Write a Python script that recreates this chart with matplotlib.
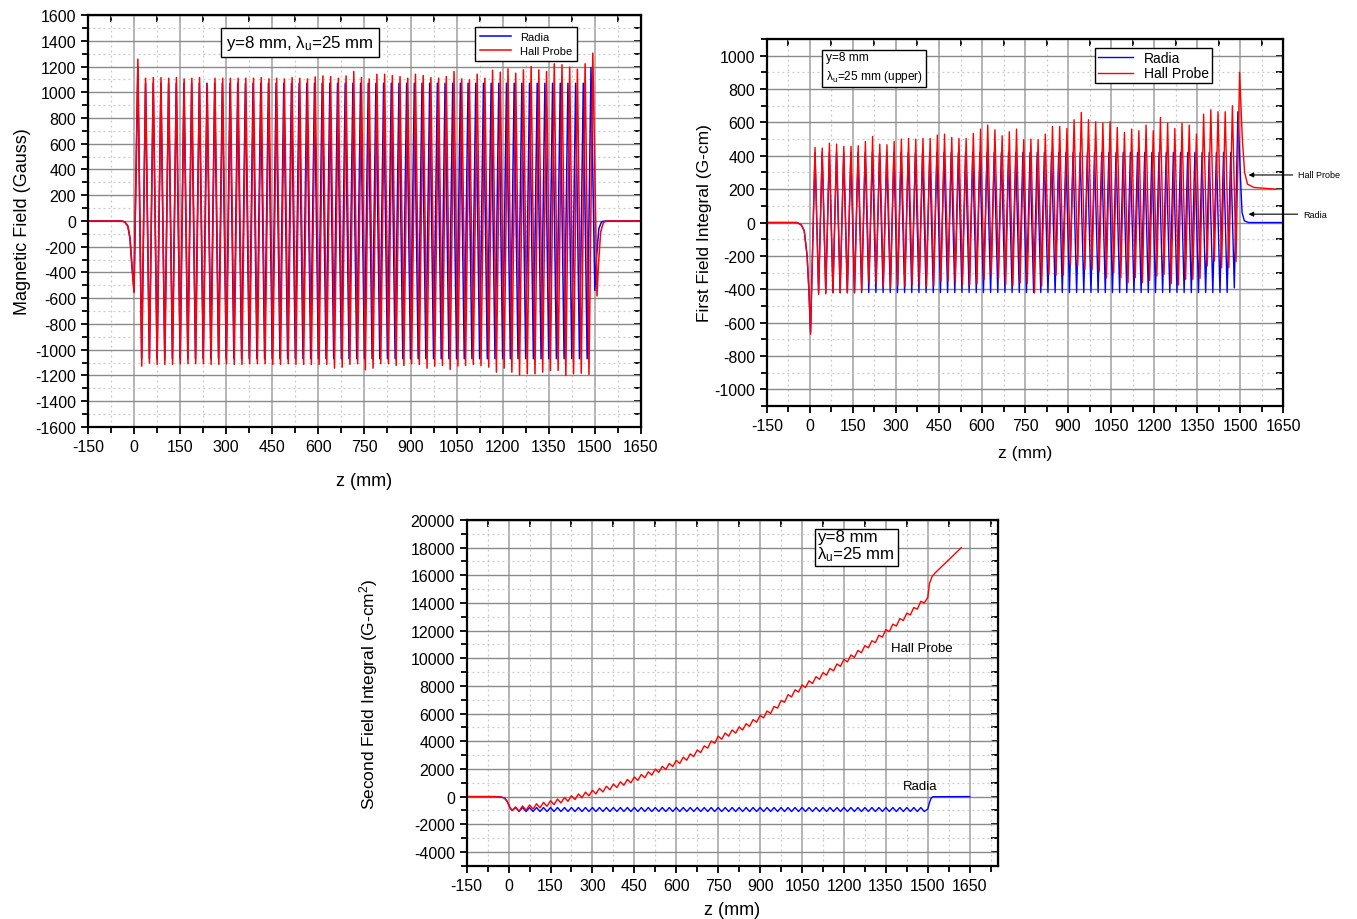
import matplotlib
matplotlib.use('Agg')
import matplotlib.pyplot as plt
from matplotlib.ticker import MultipleLocator
import numpy as np

plt.rcParams['font.family'] = ['Liberation Sans', 'DejaVu Sans']
plt.rcParams['mathtext.fontset'] = 'custom'
plt.rcParams['mathtext.rm'] = 'Liberation Sans'
plt.rcParams['mathtext.it'] = 'Liberation Sans:italic'
plt.rcParams['axes.unicode_minus'] = False

# undulator: 60 periods, lambda_u = 25 mm; Hall probe peaks drift ~6 mm right by the exit
n_per = 60
lam_u = 25.0
hall_stretch = 1.004

# ---------------- magnetic field (Gauss), peak values read per pole ----------------
b_in_z = [-150, -40, -30, -20, -13, -7, 0]
b_in_radia = [0, 0, -8, -40, -135, -340, -545]
b_in_hall = [0, 0, -8, -40, -135, -340, -556]

hall_bpos = [1257, 1109, 1114, 1114, 1109, 1114, 1104, 1109, 1114, 1057,
             1109, 1109, 1109, 1109, 1109, 1109, 1114, 1104, 1109, 1104,
             1114, 1109, 1104, 1119, 1127, 1122, 1109, 1127, 1161, 1114,
             1104, 1140, 1140, 1130, 1122, 1109, 1140, 1130, 1114, 1109,
             1122, 1161, 1104, 1096, 1140, 1109, 1171, 1156, 1182, 1148,
             1174, 1200, 1174, 1161, 1221, 1213, 1195, 1179, 1221, 1304]
hall_bneg = [-1127, -1104, -1114, -1114, -1114, -1109, -1109, -1109, -1109, -1114,
             -1114, -1109, -1114, -1114, -1109, -1109, -1109, -1114, -1114, -1109,
             -1114, -1114, -1114, -1114, -1114, -1143, -1135, -1114, -1109, -1156,
             -1143, -1109, -1109, -1122, -1122, -1109, -1114, -1143, -1127, -1122,
             -1153, -1127, -1122, -1114, -1122, -1135, -1174, -1143, -1174, -1195,
             -1187, -1187, -1174, -1161, -1161, -1200, -1187, -1182, -1192]
radia_bpos = [1190] + [1070] * 58 + [1192]
radia_bneg = [-1070] * 59

b_out_radia_z = [1500, 1505, 1513, 1522, 1535, 1650]
b_out_radia = [-540, -300, -60, -5, 0, 0]
b_out_hall_z = [1507, 1512, 1519, 1528, 1540, 1650]
b_out_hall = [-582, -330, -85, -10, 0, 0]

# ---------------- first field integral (G-cm) ----------------
i1_in_z = [-150, -45, -30, -20, -10, -4, 2]
i1_in_radia = [0, 0, -15, -50, -200, -400, -660]
i1_in_hall = [0, 0, -15, -50, -200, -400, -670]

hall_i1max = [450, 446, 476, 470, 456, 456, 460, 486, 516, 470,
              466, 486, 500, 504, 500, 504, 504, 524, 530, 510,
              504, 504, 534, 560, 584, 556, 520, 544, 560, 496,
              500, 496, 530, 576, 576, 564, 616, 660, 616, 604,
              596, 604, 570, 540, 560, 550, 584, 550, 630, 596,
              564, 596, 584, 530, 650, 676, 664, 664, 700, 900]
hall_i1min = [-432, -428, -422, -422, -422, -422, -408, -362, -368, -382,
              -392, -376, -382, -372, -376, -382, -378, -352, -348, -362,
              -372, -372, -368, -342, -312, -332, -372, -378, -362, -364,
              -422, -381, -311, -315, -315, -251, -261, -281, -281, -291,
              -331, -301, -331, -361, -331, -361, -347, -321, -311, -367,
              -375, -341, -341, -335, -261, -231, -271, -271, -235]
radia_i1max = [420] * 59 + [664]
radia_i1min = [-420] * 58 + [-392]

i1_out_radia_z = [1502, 1507, 1515, 1530, 1650]
i1_out_radia = [250, 60, 10, 0, 0]
i1_out_hall_z = [1508, 1516, 1526, 1549, 1625]
i1_out_hall = [500, 300, 230, 210, 200]

# ---------------- second field integral (G-cm^2) ----------------
i2_in_z = [-150, -50, -30, -15, -5, 5]
i2_in = [0, 0, -20, -100, -350, -800]

hall_i2lo = [-1010, -1055, -985, -905, -810, -700, -580, -460, -340, -215,
             -85, 50, 190, 335, 490, 650, 815, 990, 1170, 1355,
             1550, 1750, 1955, 2170, 2395, 2630, 2890, 3180, 3505, 3855,
             4145, 4370, 4590, 4815, 5080, 5380, 5690, 6015, 6395, 6820,
             7205, 7555, 7880, 8180, 8480, 8780, 9090, 9415, 9740, 10065,
             10405, 10755, 11130, 11530, 11930, 12330, 12730, 13130, 13555, 14005]
hall_i2hi = [-750, -680, -610, -520, -420, -300, -180, -60, 60, 190,
             320, 460, 600, 750, 910, 1070, 1240, 1420, 1600, 1790,
             1990, 2190, 2400, 2620, 2850, 3090, 3370, 3670, 4020, 4370,
             4600, 4820, 5040, 5270, 5570, 5870, 6190, 6520, 6950, 7370,
             7720, 8070, 8370, 8670, 8970, 9270, 9590, 9920, 10240, 10570,
             10920, 11270, 11670, 12070, 12470, 12870, 13270, 13670, 14120]
radia_i2lo = [-1010] + [-1080] * 59
radia_i2hi = [-790] * 59

i2_out_hall_z = [1500, 1506, 1515, 1525, 1620]
i2_out_hall = [14400, 15400, 15900, 16150, 18000]
i2_out_radia_z = [1500, 1505, 1511, 1518, 1650]
i2_out_radia = [-900, -500, -150, -10, 0]


def wave(z_in, v_in, z_hi, v_hi, z_lo, v_lo, z_out, v_out):
    z = np.concatenate([z_hi, z_lo])
    v = np.concatenate([v_hi, v_lo])
    o = np.argsort(z)
    return (np.concatenate([z_in, z[o], z_out]),
            np.concatenate([v_in, v[o], v_out]))


def style(ax, xlim, ylim, ymaj, ymin):
    ax.set_xlim(*xlim)
    ax.set_ylim(*ylim)
    ax.xaxis.set_major_locator(MultipleLocator(150))
    ax.xaxis.set_minor_locator(MultipleLocator(75))
    ax.yaxis.set_major_locator(MultipleLocator(ymaj))
    ax.yaxis.set_minor_locator(MultipleLocator(ymin))
    ax.grid(True, which='major', axis='x', color='#b4b4b4', lw=1.4)
    ax.grid(True, which='major', axis='y', color='#8a8a8a', lw=1.0)
    ax.grid(True, which='minor', color='#c8c8c8', lw=0.9, ls=(0, (1.5, 2.5)))
    ax.set_axisbelow(True)
    for s in ax.spines.values():
        s.set_linewidth(1.6)
    ax.tick_params(which='both', direction='out', width=1.3, labelsize=11.5)
    ax.tick_params(which='major', length=5)
    ax.tick_params(which='minor', length=4)
    top = ax.secondary_xaxis('top')
    top.xaxis.set_major_locator(MultipleLocator(150))
    top.xaxis.set_minor_locator(MultipleLocator(75))
    top.tick_params(which='both', direction='in', labeltop=False, width=1.3, length=5)
    right = ax.secondary_yaxis('right')
    right.yaxis.set_major_locator(MultipleLocator(ymaj))
    right.yaxis.set_minor_locator(MultipleLocator(ymin))
    right.tick_params(which='both', direction='in', labelright=False, width=1.3, length=5)


box = dict(facecolor='white', edgecolor='black', lw=1, boxstyle='square,pad=0.3')
fig = plt.figure(figsize=(13.57, 9.2), dpi=100)

# ---- top left: magnetic field ----
ax1 = fig.add_axes([0.0648, 0.5348, 0.4075, 0.4478])
zh = 12.5 + lam_u * np.arange(n_per)
zl = lam_u * np.arange(1, n_per)
z, v = wave(b_in_z, b_in_radia, zh, radia_bpos, zl, radia_bneg, b_out_radia_z, b_out_radia)
ax1.plot(z, v, color='blue', lw=1.1, label='Radia')
z, v = wave(b_in_z, b_in_hall, zh * hall_stretch, hall_bpos, zl * hall_stretch, hall_bneg,
            b_out_hall_z, b_out_hall)
ax1.plot(z, v, color='red', lw=1.1, label='Hall Probe')
style(ax1, (-150, 1650), (-1600, 1600), 200, 100)
ax1.set_xlabel('z (mm)', fontsize=13, labelpad=13)
ax1.set_ylabel('Magnetic Field (Gauss)', fontsize=13, labelpad=3)
ax1.text(300, 1386, 'y=8 mm, λ$_\\mathrm{u}$=25 mm', fontsize=12.2, va='center', ha='left',
         bbox=box)
ax1.legend(loc='upper left', bbox_to_anchor=(0.70, 0.97), fontsize=8, fancybox=False,
           edgecolor='black', framealpha=1, borderpad=0.45, handlelength=2.8,
           labelspacing=0.35, borderaxespad=0)

# ---- top right: first field integral ----
ax2 = fig.add_axes([0.5652, 0.5576, 0.3803, 0.3989])
zh = 17.5 + lam_u * np.arange(n_per)
zl = 5 + lam_u * np.arange(1, n_per)
z, v = wave(i1_in_z, i1_in_radia, zh, radia_i1max, zl, radia_i1min, i1_out_radia_z, i1_out_radia)
ax2.plot(z, v, color='blue', lw=1.0, label='Radia')
z, v = wave(i1_in_z, i1_in_hall, zh * hall_stretch, hall_i1max, zl * hall_stretch, hall_i1min,
            i1_out_hall_z, i1_out_hall)
ax2.plot(z, v, color='red', lw=1.0, label='Hall Probe')
style(ax2, (-150, 1650), (-1100, 1100), 200, 100)
ax2.set_xlabel('z (mm)', fontsize=12.5, labelpad=9)
ax2.set_ylabel('First Field Integral (G-cm)', fontsize=12.5, labelpad=2)
ax2.text(55, 929, 'y=8 mm\nλ$_\\mathrm{u}$=25 mm (upper)', fontsize=8.6, va='center',
         ha='left', linespacing=1.4, bbox=box)
ax2.legend(loc='upper left', bbox_to_anchor=(0.636, 0.975), fontsize=10, fancybox=False,
           edgecolor='black', framealpha=1, borderpad=0.2, handlelength=2.5,
           labelspacing=0.1, borderaxespad=0)
arrow = dict(arrowstyle='-|>', color='black', lw=0.8, mutation_scale=7)
ax2.annotate('Hall Probe', xy=(1520, 285), xytext=(1703, 285), fontsize=6.5, va='center',
             ha='left', arrowprops=arrow, annotation_clip=False)
ax2.annotate('Radia', xy=(1520, 50), xytext=(1720, 50), fontsize=6.5, va='center',
             ha='left', arrowprops=arrow, annotation_clip=False)

# ---- bottom: second field integral ----
ax3 = fig.add_axes([0.3439, 0.0579, 0.3913, 0.3758])
zl = 12.5 + lam_u * np.arange(n_per)
zh = lam_u * np.arange(1, n_per)
z, v = wave(i2_in_z, i2_in, zh, radia_i2hi, zl, radia_i2lo, i2_out_radia_z, i2_out_radia)
ax3.plot(z, v, color='blue', lw=1.0)
z, v = wave(i2_in_z, i2_in, zh, hall_i2hi, zl, hall_i2lo, i2_out_hall_z, i2_out_hall)
ax3.plot(z, v, color='red', lw=1.0)
style(ax3, (-150, 1750), (-5000, 20000), 2000, 1000)
ax3.set_xlabel('z (mm)', fontsize=13, labelpad=6)
ax3.set_ylabel('Second Field Integral (G-cm$^2$)', fontsize=12.5, labelpad=22)
ax3.text(1105, 18100, 'y=8 mm\nλ$_\\mathrm{u}$=25 mm', fontsize=12.2, va='center',
         ha='left', linespacing=1.0, bbox=dict(box, boxstyle='square,pad=0.15'))
ax3.text(1480, 10740, 'Hall Probe', fontsize=9.5, ha='center', va='center')
ax3.text(1473, 770, 'Radia', fontsize=9.5, ha='center', va='center')

fig.savefig('out.png', dpi=100)
